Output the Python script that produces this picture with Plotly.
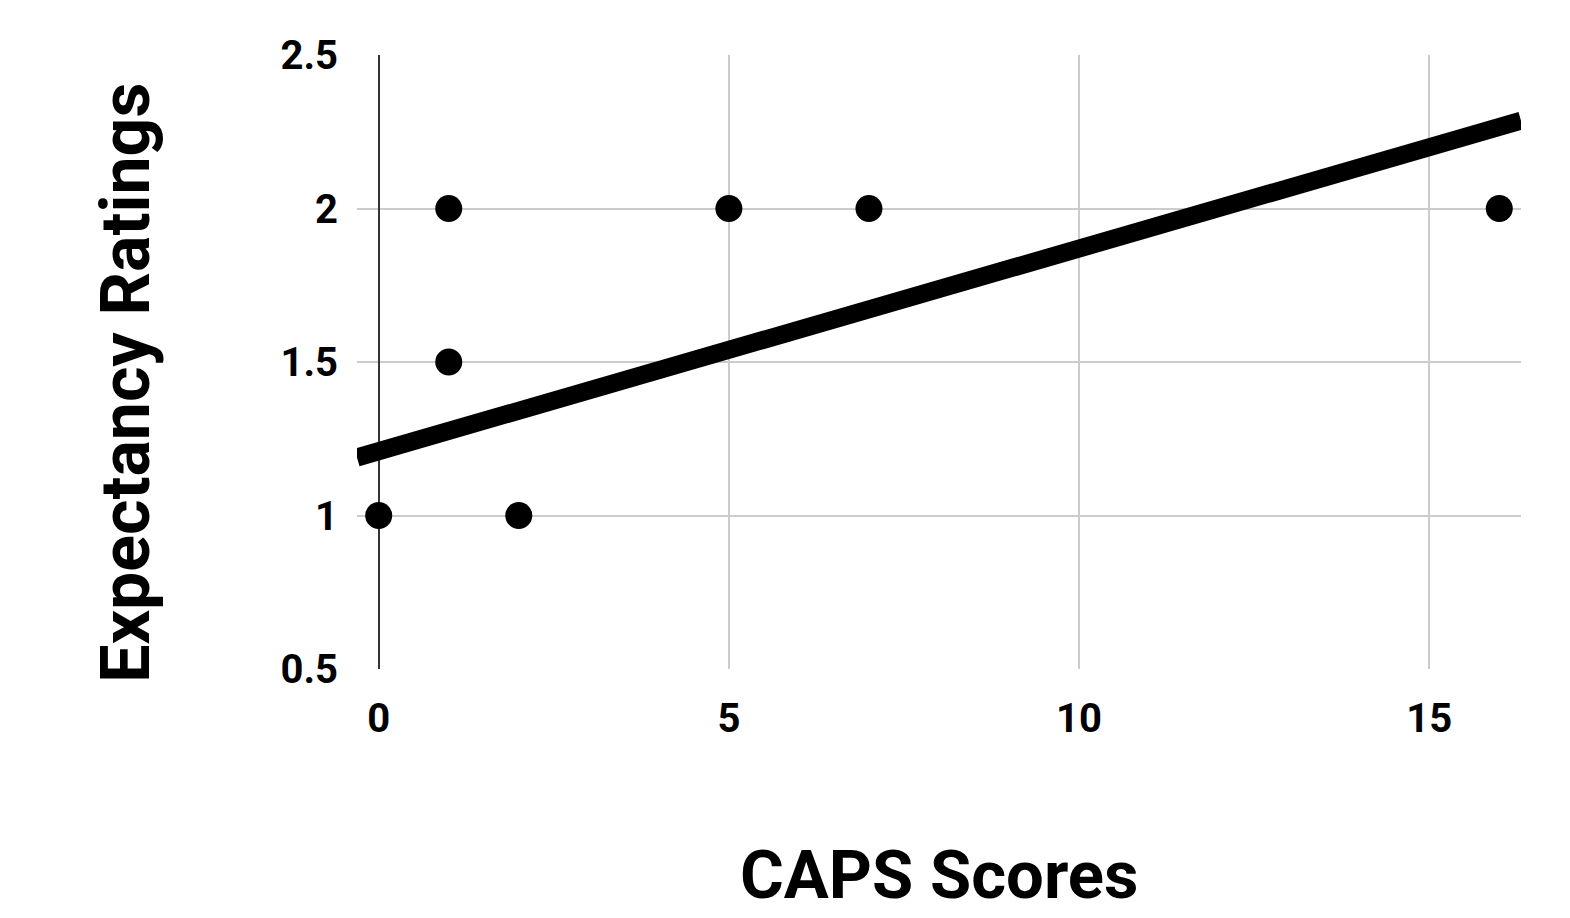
import plotly.graph_objects as go

caps_scores = [0, 1, 1, 2, 5, 7, 16]
expectancy = [1, 2, 1.5, 1, 2, 2, 2]

trend_x = [-0.31, 16.31]
trend_y = [1.189, 2.286]

x_ticks = [0, 5, 10, 15]
y_ticks = [0.5, 1, 1.5, 2, 2.5]
y_tick_text = ["0.5", "1", "1.5", "2", "2.5"]

font_fam = "Roboto"

fig = go.Figure()
fig.add_trace(go.Scatter(x=trend_x, y=trend_y, mode="lines",
                         line=dict(color="black", width=18), hoverinfo="skip",
                         showlegend=False))
fig.add_trace(go.Scatter(x=caps_scores, y=expectancy, mode="markers",
                         marker=dict(color="black", size=27),
                         cliponaxis=False, showlegend=False))

fig.update_layout(
    width=1570, height=918,
    margin=dict(l=349, r=57, t=47, b=257),
    plot_bgcolor="white", paper_bgcolor="white",
    font=dict(family=font_fam, color="black", size=40, weight=700),
    xaxis=dict(range=[-0.31, 16.31], tickvals=x_ticks, showgrid=True,
               gridcolor="#cccccc", gridwidth=2, zeroline=True,
               zerolinecolor="#333333", zerolinewidth=2, showline=False,
               ticklabelstandoff=22,
               tickfont=dict(family=font_fam, size=40, weight=700)),
    yaxis=dict(range=[0.5, 2.5], tickvals=y_ticks, ticktext=y_tick_text,
               showgrid=True, gridcolor="#cccccc", gridwidth=2,
               zeroline=False, showline=False, ticklabelstandoff=18,
               tickfont=dict(family=font_fam, size=40, weight=700)),
    annotations=[
        dict(text="CAPS Scores", xref="paper", yref="paper", x=0.5, y=-0.402,
             xanchor="center", yanchor="bottom", showarrow=False,
             font=dict(family=font_fam, size=67, weight=700)),
        dict(text="Expectancy Ratings", xref="paper", yref="paper", x=-0.1985,
             y=0.466, xanchor="center", yanchor="middle", showarrow=False,
             textangle=-90,
             font=dict(family=font_fam, size=68, weight=700)),
    ],
)

fig.write_html("out.html")
